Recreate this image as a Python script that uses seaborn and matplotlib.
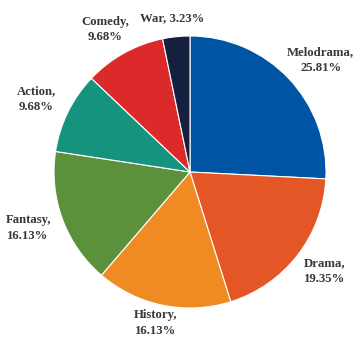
import numpy as np
import matplotlib
matplotlib.use("Agg")
import matplotlib.pyplot as plt
import seaborn as sns

genres = ["Melodrama", "Drama", "History", "Fantasy", "Action", "Comedy", "War"]
shares = [25.81, 19.35, 16.13, 16.13, 9.68, 9.68, 3.23]
colors = ["#0054a4", "#e55626", "#ef8b22", "#5b913b", "#16937f", "#dc2a2b", "#15203e"]

# label placement: distance from centre (in radii) and angular nudge (degrees)
label_radius = [1.265, 1.23, 1.14, 1.26, 1.25, 1.22, 1.14]
label_nudge = [-3.0, 1.4, -1.4, -1.2, 0.6, 1.7, 0.9]

sns.set_theme(style="white")
plt.rcParams["font.family"] = ["Liberation Serif", "DejaVu Serif"]

W, H = 364, 342
cx, cy, r = 190, 172, 136
fig = plt.figure(figsize=(W / 100, H / 100), dpi=100)
ax = fig.add_axes([0, 0, 1, 1])
ax.axis("off")

wedges, _ = ax.pie(
    shares, colors=colors, startangle=90, counterclock=False, radius=1,
    wedgeprops=dict(edgecolor="white", linewidth=0.8),
)
ax.set_xlim(-cx / r, (W - cx) / r)
ax.set_ylim(-(H - cy) / r, cy / r)
ax.set_aspect("auto")

for w, name, val, lr, dn in zip(wedges, genres, shares, label_radius, label_nudge):
    ang = np.deg2rad((w.theta1 + w.theta2) / 2 + dn)
    x, y = lr * np.cos(ang), lr * np.sin(ang)
    text = f"{name}, {val:.2f}%" if name == "War" else f"{name},\n{val:.2f}%"
    ax.text(x, y, text, ha="center", va="center", fontsize=9.2,
            fontweight="bold", color="#383838", linespacing=1.4)

fig.savefig("out.png", dpi=100, facecolor="white")
